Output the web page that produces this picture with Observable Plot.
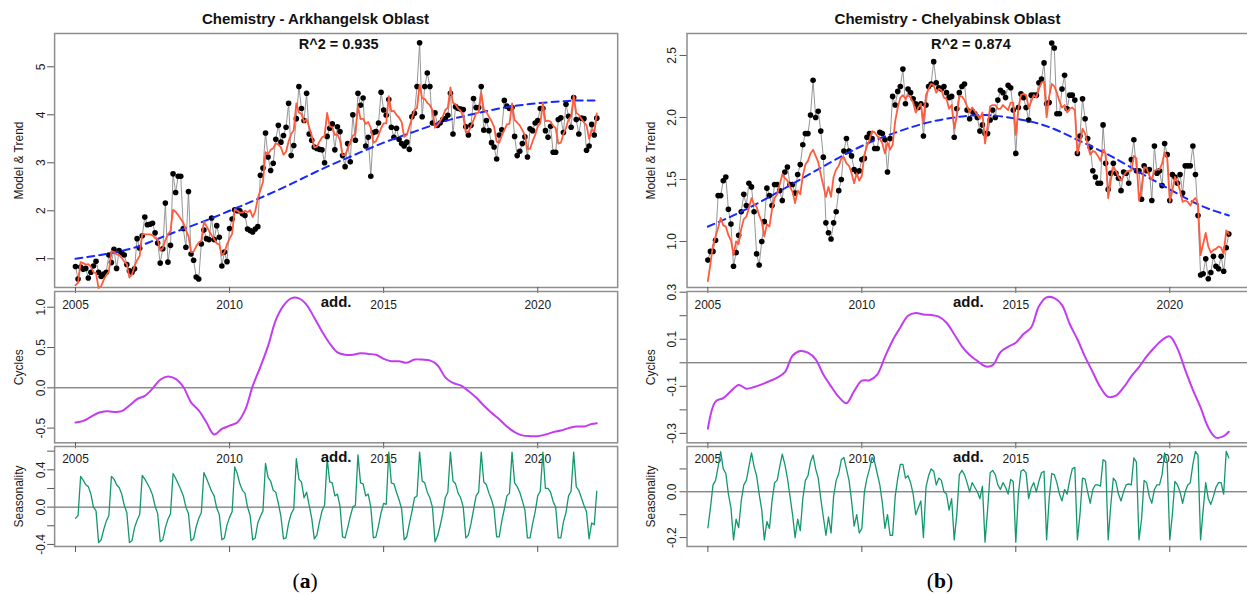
<!DOCTYPE html>
<html><head><meta charset="utf-8">
<script src="https://cdn.jsdelivr.net/npm/d3@7"></script>
<script src="https://cdn.jsdelivr.net/npm/@observablehq/plot@0.6"></script>
<style>
html,body{margin:0;padding:0;background:#fff;overflow:hidden;}
#root{position:relative;width:1247px;height:595px;overflow:hidden;background:#fff;}
</style></head>
<body><div id="root"></div>
<script>
// ---------------- DATA ----------------
const titles = ["Chemistry - Arkhangelsk Oblast", "Chemistry - Chelyabinsk Oblast"];
const r2Labels = ["R^2 = 0.935", "R^2 = 0.874"];
const panelLetters = ["a", "b"];
const xTickYears = [2005, 2010, 2015, 2020];

// Arkhangelsk: observed monthly values (Jan 2005 - Dec 2021)
const arkPoints = [
0.84,0.58,0.83,0.78,0.80,0.60,0.72,0.85,0.95,0.72,0.63,0.68,
0.72,1.08,0.92,1.20,0.80,1.17,1.12,1.08,0.88,0.75,0.72,0.79,
1.42,1.22,1.48,1.87,1.71,1.72,1.74,1.54,1.33,0.91,1.21,2.16,
0.93,1.28,2.77,2.38,2.72,2.72,1.63,1.24,2.40,1.10,0.97,0.62,
0.58,1.31,1.60,1.42,1.40,1.85,1.40,1.69,1.45,0.85,1.14,0.94,
1.63,1.83,2.02,2.00,2.00,1.94,1.90,1.62,1.59,1.56,1.62,1.67,
2.74,2.89,3.62,3.12,2.84,2.99,3.49,3.78,3.43,3.57,3.74,4.24,
3.15,3.36,3.92,4.59,4.13,3.88,4.45,3.60,3.47,3.33,3.30,3.28,
3.27,3.00,3.55,3.72,3.81,3.27,3.75,3.65,3.15,2.92,3.40,3.02,
4.00,3.47,4.45,4.20,4.35,3.35,3.53,2.72,3.63,3.65,3.83,4.47,
4.10,3.99,4.32,3.74,3.53,3.72,3.49,3.40,3.35,3.43,3.28,3.96,
4.03,4.59,5.50,3.96,4.59,4.87,4.59,3.83,4.04,3.78,3.83,3.90,
3.92,3.99,4.45,3.60,4.17,4.13,4.12,4.11,3.75,3.58,3.78,4.34,
4.15,4.15,4.59,3.68,3.88,3.67,3.42,3.33,3.08,3.58,3.69,4.30,
4.18,4.13,4.15,3.55,3.15,3.24,3.40,3.54,3.12,3.71,3.67,3.83,
3.88,4.13,4.13,3.67,3.53,3.76,3.22,3.22,3.90,3.94,3.63,4.22,
3.97,3.74,4.36,3.90,3.60,3.93,3.92,3.26,3.35,3.80,3.58,3.93];
// Arkhangelsk: model fit (red)
const arkModel = [
0.45,0.50,0.93,0.91,0.88,0.89,0.83,0.72,0.70,0.39,0.43,0.56,
0.66,0.73,1.16,1.14,1.09,1.08,1.02,0.94,0.89,0.61,0.67,0.85,
0.97,1.06,1.52,1.51,1.51,1.51,1.49,1.43,1.41,1.17,1.22,1.39,
1.51,1.58,2.02,1.98,1.91,1.83,1.75,1.59,1.47,1.14,1.15,1.26,
1.34,1.37,1.77,1.68,1.58,1.49,1.41,1.32,1.30,1.07,1.13,1.30,
1.42,1.52,2.03,2.00,1.96,1.96,2.00,1.97,2.01,1.87,1.99,2.26,
2.43,2.60,3.22,3.18,3.27,3.30,3.41,3.38,3.32,3.17,3.23,3.45,
3.60,3.68,4.24,4.05,4.02,3.85,3.91,3.74,3.57,3.32,3.33,3.44,
3.53,3.56,4.04,3.76,3.74,3.58,3.59,3.47,3.16,3.16,3.29,3.44,
3.56,3.61,4.18,3.91,3.92,3.81,3.85,3.73,3.42,3.45,3.57,3.72,
3.82,3.82,4.39,4.07,4.08,4.00,3.94,3.85,3.54,3.58,3.75,3.92,
4.10,4.14,4.63,4.34,4.33,4.25,4.20,4.10,3.73,3.79,3.87,3.96,
4.10,4.15,4.57,4.25,4.22,4.13,4.08,3.97,3.63,3.65,3.76,3.89,
4.03,4.05,4.45,4.11,4.06,3.96,3.87,3.75,3.44,3.42,3.57,3.68,
3.80,3.81,4.24,3.89,3.84,3.78,3.68,3.58,3.29,3.29,3.45,3.58,
3.76,3.82,4.25,3.87,3.88,3.86,3.77,3.72,3.40,3.42,3.60,3.72,
3.91,3.97,4.40,4.04,4.00,3.92,3.84,3.78,3.50,3.68,3.66,4.03];
// Arkhangelsk: seasonal component
const arkSeason = [
-0.12,-0.09,0.33,0.29,0.24,0.22,0.14,0.00,-0.04,-0.38,-0.35,-0.24,
-0.15,-0.09,0.33,0.30,0.24,0.21,0.14,0.02,-0.06,-0.38,-0.36,-0.22,
-0.14,-0.08,0.34,0.30,0.25,0.20,0.13,0.01,-0.07,-0.37,-0.35,-0.22,
-0.13,-0.07,0.36,0.31,0.25,0.19,0.12,0.00,-0.07,-0.36,-0.34,-0.21,
-0.12,-0.06,0.37,0.31,0.24,0.17,0.12,-0.01,-0.08,-0.35,-0.33,-0.19,
-0.11,-0.05,0.43,0.36,0.25,0.18,0.15,0.00,-0.09,-0.35,-0.33,-0.17,
-0.10,-0.04,0.47,0.32,0.28,0.18,0.16,0.04,-0.10,-0.34,-0.33,-0.17,
-0.07,-0.02,0.52,0.30,0.27,0.10,0.16,0.02,-0.12,-0.34,-0.30,-0.16,
-0.04,0.02,0.52,0.27,0.26,0.12,0.14,0.01,-0.32,-0.33,-0.22,-0.10,
0.00,0.02,0.56,0.26,0.25,0.12,0.14,0.00,-0.33,-0.32,-0.20,-0.06,
0.04,0.03,0.59,0.26,0.25,0.16,0.08,-0.02,-0.35,-0.32,-0.18,-0.05,
0.10,0.12,0.59,0.28,0.26,0.16,0.10,0.00,-0.37,-0.31,-0.20,-0.07,
0.10,0.16,0.59,0.28,0.25,0.15,0.10,0.00,-0.33,-0.30,-0.18,-0.03,
0.12,0.16,0.59,0.27,0.24,0.15,0.08,-0.02,-0.32,-0.32,-0.15,-0.02,
0.12,0.15,0.59,0.26,0.22,0.16,0.07,-0.03,-0.33,-0.33,-0.18,-0.05,
0.12,0.17,0.59,0.20,0.20,0.16,0.06,0.00,-0.33,-0.33,-0.16,-0.06,
0.12,0.17,0.59,0.22,0.18,0.10,0.02,-0.05,-0.34,-0.17,-0.19,0.17];
// Arkhangelsk: cyclical component (quarterly samples + last month)
const arkCycle = [
-0.43,-0.41,-0.36,-0.31, -0.29,-0.30,-0.29,-0.22, -0.14,-0.10,-0.01,0.10,
0.14,0.11,0.01,-0.18, -0.28,-0.43,-0.58,-0.51, -0.47,-0.43,-0.28,0.02,
0.26,0.52,0.84,1.02, 1.11,1.11,1.03,0.87, 0.70,0.55,0.44,0.41,
0.41,0.43,0.42,0.41, 0.36,0.33,0.33,0.31, 0.35,0.35,0.34,0.28,
0.13,0.06,0.03,-0.04, -0.12,-0.22,-0.31,-0.39, -0.48,-0.55,-0.59,-0.60,
-0.60,-0.58,-0.55,-0.53, -0.50,-0.48,-0.48,-0.45, -0.44];
// Arkhangelsk: trend (yearly samples + last month)
const arkTrend = [1.00,1.10,1.25,1.50,1.74,2.00,2.27,2.56,2.87,3.15,3.42,3.65,3.87,4.03,4.16,4.24,4.29,4.30];

// Chelyabinsk: observed monthly values
const chePoints = [
0.85,0.92,0.92,1.01,1.37,1.37,1.49,1.52,1.26,1.14,0.80,0.91,
1.05,1.24,1.38,1.29,1.47,1.44,1.24,0.90,0.81,1.00,1.16,1.43,
1.37,1.29,1.46,1.46,1.41,1.33,1.56,1.60,1.46,1.46,1.39,1.54,
1.62,1.78,1.87,1.87,2.02,2.30,2.00,2.05,1.89,1.68,1.15,1.07,
1.02,1.15,1.24,1.41,1.50,1.73,1.83,1.73,1.69,1.58,1.56,1.57,
1.66,1.67,1.84,1.87,1.83,1.75,1.75,1.88,1.87,1.82,1.56,1.83,
2.17,2.10,2.21,2.25,2.39,2.11,2.23,2.20,2.15,2.11,2.08,2.11,
1.85,2.10,2.25,2.27,2.45,2.28,2.24,2.23,2.25,2.20,2.16,2.17,
1.84,2.07,2.20,2.25,2.27,2.06,1.99,2.05,2.03,2.00,1.89,1.94,
1.87,1.87,1.98,2.06,2.00,2.14,2.22,2.20,2.16,2.26,2.24,2.06,
1.71,2.08,2.19,2.16,2.08,1.98,2.18,2.18,2.18,2.28,2.31,2.44,
2.11,2.12,2.60,2.56,2.03,2.03,2.23,2.34,2.07,2.18,2.18,2.14,
1.71,1.85,2.15,1.99,1.83,1.76,1.57,1.52,1.47,1.47,1.94,1.63,
1.42,1.55,1.63,1.55,1.51,1.41,1.56,1.55,1.47,1.66,1.82,1.57,
1.57,1.34,1.61,1.57,1.58,1.33,1.77,1.55,1.57,1.45,1.79,1.70,
1.33,1.54,1.52,1.47,1.54,1.39,1.61,1.61,1.61,1.77,1.54,1.21,
0.73,0.74,0.86,0.70,0.75,0.88,0.80,0.78,0.88,0.76,0.95,1.06];
// Chelyabinsk: model fit (red)
const cheModel = [
0.68,0.82,0.97,1.04,1.11,1.19,1.13,1.12,1.05,1.01,0.89,1.00,
0.98,1.10,1.18,1.20,1.27,1.35,1.30,1.28,1.21,1.16,1.04,1.14,
1.12,1.26,1.35,1.38,1.46,1.54,1.51,1.49,1.44,1.40,1.31,1.41,
1.38,1.53,1.62,1.65,1.71,1.74,1.69,1.64,1.54,1.45,1.36,1.44,
1.36,1.52,1.58,1.61,1.67,1.68,1.63,1.61,1.55,1.47,1.55,1.49,
1.53,1.70,1.77,1.82,1.89,1.88,1.85,1.83,1.79,1.71,1.80,1.74,
1.78,1.97,2.08,2.16,2.18,2.15,2.18,2.16,2.12,2.04,2.08,2.11,
1.96,2.18,2.23,2.27,2.26,2.20,2.23,2.22,2.16,2.15,2.07,2.10,
1.91,2.01,2.17,2.17,2.14,2.09,2.04,2.08,2.05,2.02,1.99,2.04,
1.79,1.93,2.09,2.10,2.10,2.07,2.07,2.10,2.08,2.06,2.12,2.12,
1.86,2.07,2.18,2.19,2.18,2.08,2.13,2.18,2.16,2.23,2.28,2.29,
2.00,2.17,2.27,2.25,2.20,2.13,2.08,2.10,2.04,2.07,2.08,2.06,
1.71,1.79,1.91,1.87,1.78,1.70,1.73,1.72,1.69,1.65,1.74,1.71,
1.35,1.49,1.60,1.57,1.52,1.49,1.53,1.56,1.57,1.57,1.69,1.67,
1.33,1.43,1.60,1.59,1.53,1.50,1.57,1.58,1.58,1.63,1.72,1.67,
1.32,1.41,1.52,1.48,1.41,1.32,1.33,1.32,1.29,1.33,1.35,1.30,
0.89,0.98,1.07,0.96,0.91,0.93,0.94,0.96,0.95,0.90,1.09,1.06];
// Chelyabinsk: seasonal component
const cheSeason = [
-0.157,-0.07,0.03,0.05,0.11,0.175,0.10,0.08,-0.01,-0.07,-0.21,-0.12,
-0.157,-0.04,0.03,0.05,0.11,0.17,0.11,0.07,-0.01,-0.08,-0.21,-0.13,
-0.16,-0.04,0.04,0.05,0.11,0.165,0.12,0.06,-0.02,-0.10,-0.20,-0.12,
-0.17,-0.03,0.05,0.07,0.13,0.16,0.10,0.06,-0.03,-0.11,-0.19,-0.11,
-0.18,-0.02,0.05,0.08,0.14,0.15,0.10,0.05,-0.04,-0.15,-0.10,-0.18,
-0.16,0.00,0.06,0.10,0.15,0.13,0.08,0.03,-0.05,-0.16,-0.10,-0.19,
-0.19,-0.02,0.06,0.12,0.12,0.06,0.07,0.04,-0.01,-0.10,-0.07,-0.04,
-0.20,0.02,0.07,0.10,0.09,0.03,0.06,0.05,0.00,-0.01,-0.08,-0.03,
-0.21,-0.10,0.075,0.094,0.075,0.04,0.00,0.04,0.02,0.00,-0.03,0.025,
-0.22,-0.08,0.083,0.093,0.075,0.03,0.01,0.04,0.02,-0.01,0.054,0.045,
-0.22,-0.01,0.09,0.097,0.083,-0.03,0.017,0.04,0.00,0.046,0.083,0.09,
-0.21,-0.03,0.08,0.075,0.04,-0.01,-0.04,0.01,-0.01,0.05,0.10,0.107,
-0.21,-0.10,0.06,0.055,0.00,-0.05,0.01,0.03,0.03,0.025,0.14,0.133,
-0.21,-0.06,0.06,0.045,-0.01,-0.04,0.00,0.03,0.035,0.03,0.148,0.13,
-0.21,-0.12,0.05,0.04,-0.02,-0.05,0.01,0.03,0.03,0.075,0.17,0.13,
-0.21,-0.10,0.046,0.03,0.00,-0.05,0.00,0.03,0.04,0.12,0.177,0.16,
-0.21,-0.08,0.04,-0.03,-0.055,-0.02,0.02,0.04,0.04,-0.01,0.177,0.148];
// Chelyabinsk: cyclical component (quarterly samples + last month)
const cheCycle = [
-0.28,-0.165,-0.150,-0.120, -0.094,-0.110,-0.103,-0.092, -0.078,-0.063,-0.040,0.030,
0.050,0.043,0.015,-0.050, -0.100,-0.145,-0.172,-0.120, -0.076,-0.074,-0.050,0.025,
0.095,0.150,0.200,0.212, 0.205,0.203,0.196,0.170, 0.121,0.070,0.033,0.008,
-0.015,-0.010,0.045,0.068, 0.085,0.122,0.150,0.240, 0.278,0.275,0.245,0.165,
0.100,0.025,-0.040,-0.105, -0.145,-0.140,-0.105,-0.058, -0.018,0.027,0.065,0.097,
0.112,0.060,-0.030,-0.115, -0.190,-0.275,-0.318,-0.312, -0.293];
// Chelyabinsk: trend (yearly samples + last month)
const cheTrend = [1.12,1.23,1.36,1.50,1.64,1.77,1.87,1.95,2.00,2.02,1.99,1.93,1.82,1.70,1.56,1.42,1.29,1.21];

// tick values & labels
const arkTopTicks = [1,2,3,4,5], arkTopLabels = ["1","2","3","4","5"];
const arkMidTicks = [-0.5,0,0.5,1], arkMidLabels = ["-0.5","0.0","0.5","1.0"];
const arkBotTicks = [-0.4,-0.2,0,0.2,0.4,0.6], arkBotLabelTicks = [-0.4,0,0.4], arkBotLabels = ["-0.4","0.0","0.4"];
const cheTopTicks = [1,1.5,2,2.5], cheTopLabels = ["1.0","1.5","2.0","2.5"];
const cheMidTicks = [-0.3,-0.2,-0.1,0,0.1,0.2,0.3], cheMidLabelTicks = [-0.3,-0.1,0.1,0.3], cheMidLabels = ["-0.3","-0.1","0.1","0.3"];
const cheBotTicks = [-0.2,-0.1,0,0.1], cheBotLabelTicks = [-0.2,0], cheBotLabels = ["-0.2","0.0"];

// ---------------- BUILD ----------------
const monthT = d3.range(204).map(i => 2005 + i / 12);
const lastT = 2005 + 203 / 12;
const quarterT = d3.range(68).map(q => 2005 + q / 4).concat([lastT]);
const yearT = d3.range(2005, 2022).concat([lastT]);
const X_DOMAIN = [2004.323, 2022.594];
const FONT = '"Liberation Sans", Arimo, Arial, sans-serif';
const root = document.getElementById("root");

const C = {
  frame: "#8e8e8e", tick: "#555", text: "#1a1a1a", pts: "#000", obsLine: "#8a8a8a",
  model: "#ff5b3d", trend: "#1428ff", cycle: "#c23cf2", season: "#13986a", zero: "#555"
};

function yLabels(vals, labels, dx) {
  return Plot.text(vals, {y: d => d, text: (d, i) => labels[i], frameAnchor: "left", dx,
    rotate: -90, textAnchor: "middle", lineAnchor: "middle", fontSize: 12, fill: C.text});
}
function yTitle(t, dx) {
  return Plot.text([t], {frameAnchor: "left", dx, rotate: -90, textAnchor: "middle",
    lineAnchor: "middle", fontSize: 12, fill: C.text});
}
function sub(cfg) {
  const ml = cfg.frameLeft - cfg.svgLeft;
  const svg = Plot.plot({
    width: ml + cfg.frameW + 4, height: cfg.mt + cfg.frameH + cfg.mb,
    marginLeft: ml, marginRight: 4, marginTop: cfg.mt, marginBottom: cfg.mb,
    x: {domain: X_DOMAIN}, y: {domain: cfg.yDomain},
    style: {background: "transparent", overflow: cfg.clip ? "hidden" : "visible",
      fontFamily: FONT, fontSize: "12px", color: C.text},
    marks: cfg.marks
  });
  svg.style.position = "absolute";
  svg.style.left = cfg.svgLeft + "px";
  svg.style.top = (cfg.frameTop - cfg.mt) + "px";
  root.append(svg);
}

const panels = [
  {svgLeft: 0, frameLeft: 54.1, frameW: 563.1, titleX: 315.5, capX: 305, tickDx: -13.9, titleDx: -35.4,
   pts: arkPoints, model: arkModel, season: arkSeason, cycle: arkCycle, trend: arkTrend,
   top: {dom: [0.402, 5.694], ticks: arkTopTicks, lt: arkTopTicks, lab: arkTopLabels},
   mid: {dom: [-0.682, 1.195], ticks: arkMidTicks, lt: arkMidTicks, lab: arkMidLabels},
   bot: {dom: [-0.422, 0.650], ticks: arkBotTicks, lt: arkBotLabelTicks, lab: arkBotLabels}},
  {svgLeft: 630, frameLeft: 686.5, frameW: 562.7, titleX: 947.5, capX: 940, tickDx: -15.2, titleDx: -36.3,
   pts: chePoints, model: cheModel, season: cheSeason, cycle: cheCycle, trend: cheTrend,
   top: {dom: [0.629, 2.677], ticks: cheTopTicks, lt: cheTopTicks, lab: cheTopLabels},
   mid: {dom: [-0.340, 0.303], ticks: cheMidTicks, lt: cheMidLabelTicks, lab: cheMidLabels},
   bot: {dom: [-0.239, 0.198], ticks: cheBotTicks, lt: cheBotLabelTicks, lab: cheBotLabels}}
];

const xAxis = (pad, show) => Plot.axisX({ticks: xTickYears, tickSize: 6, tickPadding: pad,
  tickFormat: show ? (d => String(d)) : (() => ""), label: null, stroke: C.tick, fontSize: 12, fill: C.text});
const yAxis = (ticks) => Plot.axisY({ticks, tickSize: 7, tickFormat: () => "", label: null, stroke: C.tick});

panels.forEach((p, k) => {
  const obs = monthT.map((t, i) => ({t, v: p.pts[i], m: p.model[i], s: p.season[i]}));
  const cyc = quarterT.map((t, i) => ({t, c: p.cycle[i]}));
  const tr = yearT.map((t, i) => ({t, tr: p.trend[i]}));

  // Model & Trend
  sub({svgLeft: p.svgLeft, frameLeft: p.frameLeft, frameW: p.frameW, frameTop: 33, frameH: 254,
    mt: 6, mb: 32, yDomain: p.top.dom, marks: [
      Plot.line(obs, {x: "t", y: "v", stroke: C.obsLine, strokeWidth: 0.9}),
      Plot.dot(obs, {x: "t", y: "v", r: 2.8, fill: C.pts, stroke: "none"}),
      Plot.line(tr, {x: "t", y: "tr", stroke: C.trend, strokeWidth: 2, strokeDasharray: "7,5", curve: "natural"}),
      Plot.line(obs, {x: "t", y: "m", stroke: C.model, strokeWidth: 1.8}),
      Plot.text([r2Labels[k]], {frameAnchor: "top", lineAnchor: "top", dy: 5.7, dx: 2.5,
        fontWeight: "bold", fontSize: 14.5, fill: "#111"}),
      Plot.frame({stroke: C.frame, strokeWidth: 1.5}),
      yAxis(p.top.ticks), yLabels(p.top.lt, p.top.lab, p.tickDx), yTitle("Model & Trend", p.titleDx),
      xAxis(7.3, true)
    ]});

  // Cycles
  sub({svgLeft: p.svgLeft, frameLeft: p.frameLeft, frameW: p.frameW, frameTop: 291, frameH: 151.3,
    mt: 12, mb: 30, yDomain: p.mid.dom, marks: [
      Plot.ruleY([0], {stroke: C.zero, strokeWidth: 1}),
      Plot.line(cyc, {x: "t", y: "c", stroke: C.cycle, strokeWidth: 2, curve: "catmull-rom"}),
      Plot.text(["add."], {frameAnchor: "top", lineAnchor: "top", dy: 4.85, fontWeight: "bold", fontSize: 15, fill: "#111"}),
      Plot.frame({stroke: C.frame, strokeWidth: 1.5}),
      yAxis(p.mid.ticks), yLabels(p.mid.lt, p.mid.lab, p.tickDx), yTitle("Cycles", p.titleDx),
      xAxis(5.8, true)
    ]});

  // Seasonality
  sub({svgLeft: p.svgLeft, frameLeft: p.frameLeft, frameW: p.frameW, frameTop: 445.7, frameH: 100,
    mt: 4, mb: 11, clip: true, yDomain: p.bot.dom, marks: [
      Plot.ruleY([0], {stroke: C.zero, strokeWidth: 1}),
      Plot.line(obs, {x: "t", y: "s", stroke: C.season, strokeWidth: 1.3}),
      Plot.text(["add."], {frameAnchor: "top", lineAnchor: "top", dy: 5.15, fontWeight: "bold", fontSize: 15, fill: "#111"}),
      Plot.frame({stroke: C.frame, strokeWidth: 1.5}),
      yAxis(p.bot.ticks), yLabels(p.bot.lt, p.bot.lab, p.tickDx), yTitle("Seasonality", p.titleDx),
      xAxis(5, false)
    ]});
});

// titles and captions
const ns = "http://www.w3.org/2000/svg";
const ov = document.createElementNS(ns, "svg");
ov.setAttribute("width", 1247); ov.setAttribute("height", 595);
ov.style.position = "absolute"; ov.style.left = "0px"; ov.style.top = "0px";
panels.forEach((p, k) => {
  const t = document.createElementNS(ns, "text");
  t.setAttribute("x", p.titleX); t.setAttribute("y", 24);
  t.setAttribute("text-anchor", "middle");
  t.setAttribute("font-family", FONT); t.setAttribute("font-size", 15); t.setAttribute("font-weight", "bold");
  t.setAttribute("fill", "#111");
  t.textContent = titles[k];
  ov.append(t);
  const c = document.createElementNS(ns, "text");
  c.setAttribute("x", p.capX); c.setAttribute("y", 587.5);
  c.setAttribute("text-anchor", "middle");
  c.setAttribute("font-family", '"Liberation Serif", "DejaVu Serif", serif'); c.setAttribute("font-size", 21.5);
  c.setAttribute("fill", "#000");
  const a = document.createElementNS(ns, "tspan"); a.textContent = "(";
  const b = document.createElementNS(ns, "tspan"); b.textContent = panelLetters[k]; b.setAttribute("font-weight", "bold");
  const e = document.createElementNS(ns, "tspan"); e.textContent = ")";
  c.append(a, b, e);
  ov.append(c);
});
root.prepend(ov);
</script>
</body></html>
